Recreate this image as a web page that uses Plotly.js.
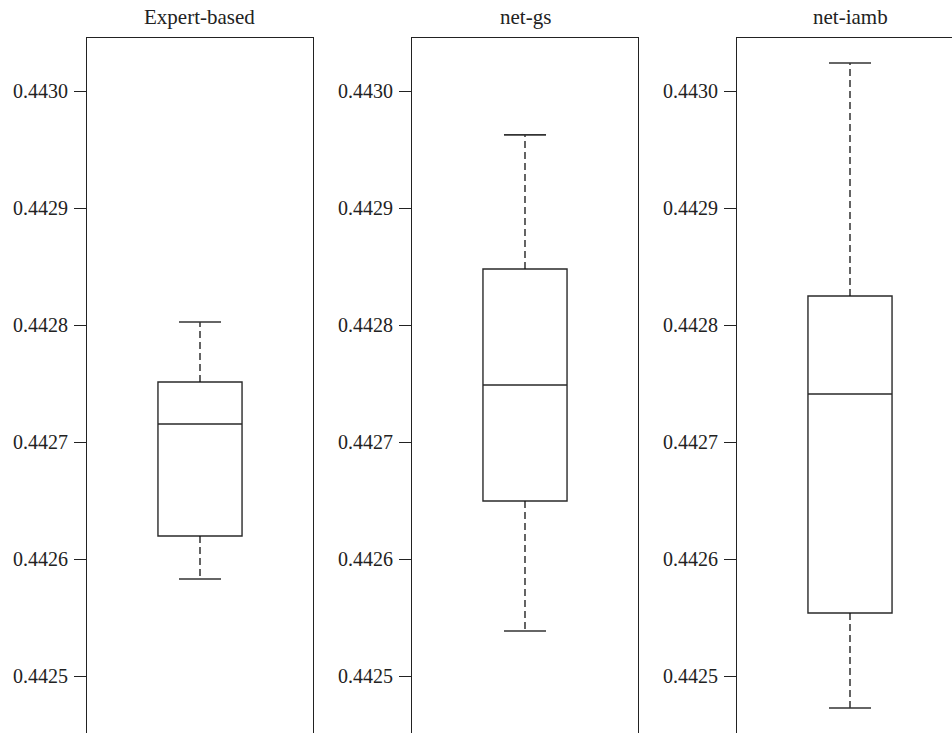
<!DOCTYPE html>
<html>
<head>
<meta charset="utf-8">
<script src="https://cdn.plot.ly/plotly-3.0.1.min.js"></script>
<style>
html, body { margin: 0; padding: 0; overflow: hidden; background: #fff; }
#chart { width: 980px; height: 760px; }
</style>
</head>
<body>
<div id="chart"></div>
<script>
// Panel names
const methods = ["Expert-based", "net-gs", "net-iamb"];
// Box statistics
const lowerWhisker = [0.4425829, 0.4425385, 0.4424726];
const q1Values     = [0.4426197, 0.4426496, 0.4425538];
const medians      = [0.4427154, 0.4427487, 0.4427410];
const q3Values     = [0.4427513, 0.4428479, 0.4428248];
const upperWhisker = [0.4428026, 0.4429625, 0.4430239];
// Y tick values
const yTicks = [0.4425, 0.4426, 0.4427, 0.4428, 0.4429, 0.4430];

const boxWidth = 0.372;
const capHalf = boxWidth / 4;
const domains = [[0, 0.25799], [0.37100, 0.62900], [0.74201, 1]];
const lineCol = "#222";
const tickFont = { family: "Liberation Serif, DejaVu Serif, serif", size: 20, color: "#222" };
const titleFont = { family: "Liberation Serif, DejaVu Serif, serif", size: 21, color: "#222" };

const traces = [];
const layout = {
  width: 980, height: 760,
  margin: { l: 87, r: 17, t: 38, b: 15 },
  showlegend: false,
  paper_bgcolor: "#fff", plot_bgcolor: "#fff",
  font: tickFont,
  annotations: []
};

methods.forEach((m, i) => {
  const n = i === 0 ? "" : String(i + 1);
  const xa = "x" + n, ya = "y" + n;
  // box (whiskers drawn separately as dashed lines)
  traces.push({
    type: "box", xaxis: xa, yaxis: ya,
    x: [0], q1: [q1Values[i]], median: [medians[i]], q3: [q3Values[i]],
    lowerfence: [q1Values[i]], upperfence: [q3Values[i]],
    width: boxWidth, boxpoints: false, whiskerwidth: 0,
    fillcolor: "#fff", line: { color: "#2a2a2a", width: 1.4 },
    hoverinfo: "skip"
  });
  // dashed whiskers
  traces.push({
    type: "scatter", mode: "lines", xaxis: xa, yaxis: ya,
    x: [0, 0, null, 0, 0],
    y: [q3Values[i], upperWhisker[i], null, q1Values[i], lowerWhisker[i]],
    line: { color: "#111", width: 1.3, dash: "7px,4px" },
    hoverinfo: "skip"
  });
  // caps
  traces.push({
    type: "scatter", mode: "lines", xaxis: xa, yaxis: ya,
    x: [-capHalf, capHalf, null, -capHalf, capHalf],
    y: [upperWhisker[i], upperWhisker[i], null, lowerWhisker[i], lowerWhisker[i]],
    line: { color: "#333", width: 1.6 },
    hoverinfo: "skip"
  });
  layout["xaxis" + n] = {
    domain: domains[i], anchor: ya, range: [-0.5, 0.5],
    showline: true, mirror: true, linecolor: lineCol, linewidth: 1,
    showgrid: false, zeroline: false, showticklabels: false, ticks: "", fixedrange: true
  };
  layout["yaxis" + n] = {
    anchor: xa, range: [0.44244103, 0.4430453],
    tickvals: yTicks, tickformat: ".4f",
    ticks: "outside", ticklen: 12, tickcolor: lineCol, tickwidth: 1,
    ticklabelstandoff: 2,
    showline: true, mirror: true, linecolor: lineCol, linewidth: 1,
    showgrid: false, zeroline: false, tickfont: tickFont, fixedrange: true
  };
  layout.annotations.push({
    text: m, xref: "paper", yref: "paper",
    x: (domains[i][0] + domains[i][1]) / 2, y: 1,
    xanchor: "center", yanchor: "bottom", yshift: 7,
    showarrow: false, font: titleFont
  });
});

Plotly.newPlot("chart", traces, layout, { displayModeBar: false, staticPlot: true });
</script>
</body>
</html>
